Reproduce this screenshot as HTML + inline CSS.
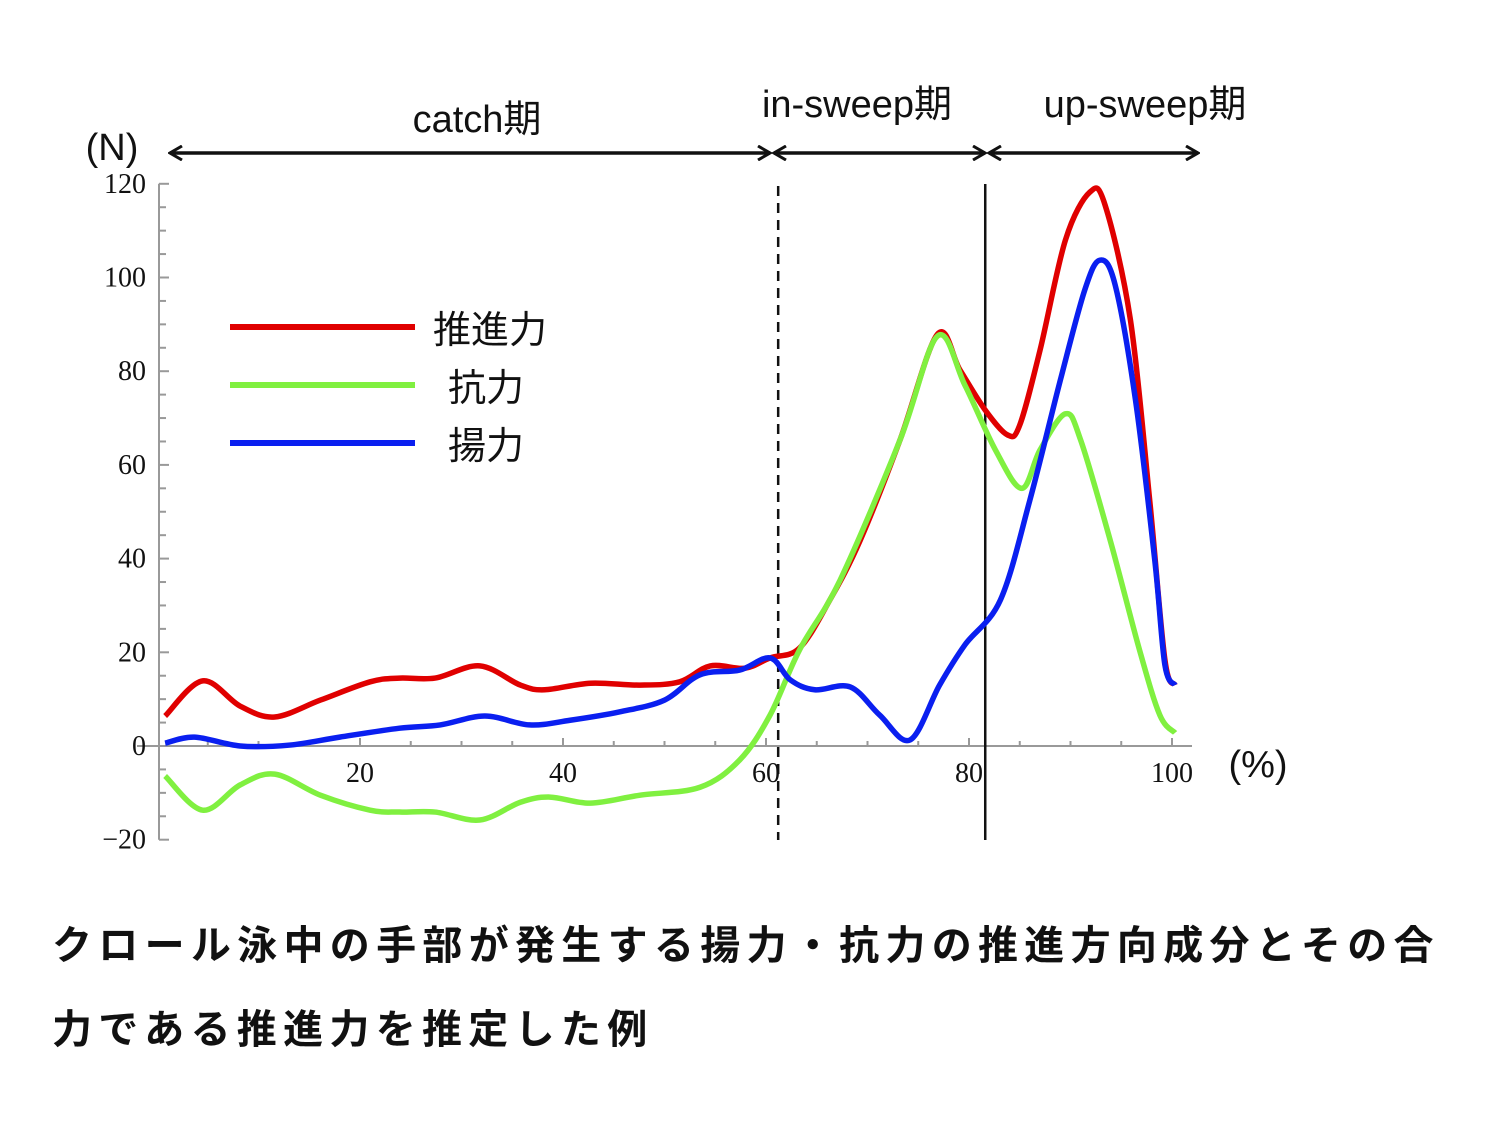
<!DOCTYPE html>
<html><head><meta charset="utf-8">
<style>
body{margin:0;background:#fff;width:1504px;height:1139px;overflow:hidden;}
svg{position:absolute;left:0;top:0;}
.cap{position:absolute;left:52px;font-family:"Liberation Sans","Noto Sans CJK JP",sans-serif;font-weight:bold;font-size:40px;color:#111;letter-spacing:6.3px;white-space:nowrap;}
</style></head>
<body>
<svg width="1504" height="1139">
<defs>
<marker id="ah" markerWidth="16" markerHeight="16" refX="14" refY="8" orient="auto-start-reverse" markerUnits="userSpaceOnUse">
<path d="M2,1 L14,8 L2,15" fill="none" stroke="#111" stroke-width="3"/>
</marker>
</defs>
<g id="axes"></g>
<g id="series"></g>
<g id="annot" font-family="'Liberation Sans','Noto Sans CJK JP',sans-serif" fill="#111">
<line x1="170" y1="153" x2="770" y2="153" stroke="#111" stroke-width="3.5" marker-start="url(#ah)" marker-end="url(#ah)"/>
<line x1="774" y1="153" x2="985" y2="153" stroke="#111" stroke-width="3.5" marker-start="url(#ah)" marker-end="url(#ah)"/>
<line x1="989" y1="153" x2="1198" y2="153" stroke="#111" stroke-width="3.5" marker-start="url(#ah)" marker-end="url(#ah)"/>
<text x="477" y="132" font-size="38" text-anchor="middle">catch期</text>
<text x="857" y="117" font-size="38" text-anchor="middle">in-sweep期</text>
<text x="1145" y="117" font-size="38" text-anchor="middle">up-sweep期</text>
<text x="112" y="160" font-size="38" text-anchor="middle">(N)</text>
<text x="1258" y="777" font-size="38" text-anchor="middle">(%)</text>
<g>
<line x1="230" y1="327" x2="415" y2="327" stroke="#e00000" stroke-width="6"/>
<text x="433" y="333" font-size="38" dominant-baseline="middle">推進力</text>
<line x1="230" y1="385" x2="415" y2="385" stroke="#80f040" stroke-width="6"/>
<text x="448" y="391" font-size="38" dominant-baseline="middle">抗力</text>
<line x1="230" y1="443" x2="415" y2="443" stroke="#0a1ff0" stroke-width="6"/>
<text x="448" y="449" font-size="38" dominant-baseline="middle">揚力</text>
</g>
</g>
</svg>
<div class="cap" style="top:913px">クロール泳中の手部が発生する揚力・抗力の推進方向成分とその合</div>
<div class="cap" style="top:997px">力である推進力を推定した例</div>
<script>
const yTicks=[120,100,80,60,40,20,0,-20];
const xTicks=[20,40,60,80,100];
const phaseBoundaries=[61.2,81.6];
const propX=[0.8,4.5,8.2,11.6,16.1,21,23.9,27.4,31.8,35.8,38.2,42.7,47.6,51.5,54.5,57.9,60.4,63.3,66.3,69.3,73.2,76.9,79.1,81.6,83.8,85,87,89.5,91.9,93.4,95.9,97.8,99.3,100.3];
const propY=[6.4,13.9,8.5,6.2,9.8,13.7,14.5,14.5,17.1,13,12,13.4,13,13.7,17.1,16.6,18.8,20.9,31.2,44,65.3,87.9,80.3,71.7,66.4,68.5,84.5,108,118.2,115.5,91,52.5,18.4,13];
const dragX=[0.8,4.5,8.2,11.6,16.1,21,23.9,27.4,31.8,35.8,38.7,42.7,47.6,53.5,57.4,60.4,63.3,67.3,73.2,76.9,79.6,82.6,85.2,87,89.5,91,93.9,96.8,98.8,100.3];
const dragY=[-6.4,-13.7,-8.3,-6,-10.5,-13.7,-14.1,-14.1,-15.8,-12,-10.9,-12.2,-10.5,-8.8,-3,6.6,20.5,35.4,65.3,87.5,77,63.2,55,63.2,70.9,65.3,44,20.5,6.6,2.8];
const liftX=[0.8,3.7,8.2,13.1,18,23.9,27.9,32.3,36.7,40.7,45.6,50,53.5,57.4,60.4,62.4,64.8,68.3,71.2,74.2,77.1,79.6,83.1,86,89,91.4,92.9,94.4,96.4,98.3,99.3,100.3];
const liftY=[0.6,1.9,0,0.2,1.9,3.8,4.5,6.4,4.5,5.5,7.3,9.8,15.2,16.2,18.8,14.1,12,12.6,6.6,1.3,13,21.6,31.2,52.5,78.1,97.3,103.7,98.4,73.9,39.7,17.3,13];

const NS='http://www.w3.org/2000/svg';
const X=v=>157+v*10.15;
const Y=v=>746-v*4.685;
function mk(tag,attrs,parent){const e=document.createElementNS(NS,tag);for(const k in attrs)e.setAttribute(k,attrs[k]);parent.appendChild(e);return e;}
const ax=document.getElementById('axes');
let a=mk('line',{x1:X(0)+2,y1:Y(120),x2:X(0)+2,y2:Y(-20),stroke:'#999','stroke-width':2},ax);


a=mk('line',{x1:137,y1:Y(0),x2:1192,y2:Y(0),stroke:'#999','stroke-width':2},ax);


for(let v=-20;v<=120;v+=5){const t=mk('line',{x1:X(0)+2,y1:Y(v),x2:X(0)+(v%20===0?12:9),y2:Y(v),stroke:'#999','stroke-width':2},ax);

}
for(let v=5;v<=100;v+=5){const t=mk('line',{x1:X(v),y1:Y(0),x2:X(v),y2:Y(0)-(v%20===0?8:5),stroke:'#999','stroke-width':2},ax);

}
yTicks.forEach(v=>{const t=mk('text',{x:146,y:Y(v)+9,'font-size':28,'text-anchor':'end','font-family':"'Liberation Serif',serif",fill:'#111'},ax);t.textContent=(v<0?'−':'')+Math.abs(v);

});
xTicks.forEach(v=>{const t=mk('text',{x:X(v),y:782,'font-size':28,'text-anchor':'middle','font-family':"'Liberation Serif',serif",fill:'#111'},ax);t.textContent=v;

});
let b=mk('line',{x1:X(phaseBoundaries[0]),y1:186,x2:X(phaseBoundaries[0]),y2:840,stroke:'#111','stroke-width':2.5,'stroke-dasharray':'10,7'},ax);


b=mk('line',{x1:X(phaseBoundaries[1]),y1:184,x2:X(phaseBoundaries[1]),y2:840,stroke:'#111','stroke-width':2.5},ax);


function smooth(xs,ys){const p=xs.map((x,i)=>[X(x),Y(ys[i])]);let d='M'+p[0][0]+','+p[0][1];
for(let i=0;i<p.length-1;i++){const p0=p[i-1]||p[i],p1=p[i],p2=p[i+1],p3=p[i+2]||p2;
d+=' C'+(p1[0]+(p2[0]-p0[0])/6)+','+(p1[1]+(p2[1]-p0[1])/6)+' '+(p2[0]-(p3[0]-p1[0])/6)+','+(p2[1]-(p3[1]-p1[1])/6)+' '+p2[0]+','+p2[1];}return d;}
const sg=document.getElementById('series');
let s=mk('path',{d:smooth(dragX,dragY),fill:'none',stroke:'#80f040','stroke-width':5.5,'stroke-linejoin':'round'},sg);


s=mk('path',{d:smooth(propX,propY),fill:'none',stroke:'#e00000','stroke-width':5.5,'stroke-linejoin':'round'},sg);


sg.insertBefore(s,sg.firstChild);
s=mk('path',{d:smooth(liftX,liftY),fill:'none',stroke:'#0a1ff0','stroke-width':5.5,'stroke-linejoin':'round'},sg);


</script>
</body></html>
